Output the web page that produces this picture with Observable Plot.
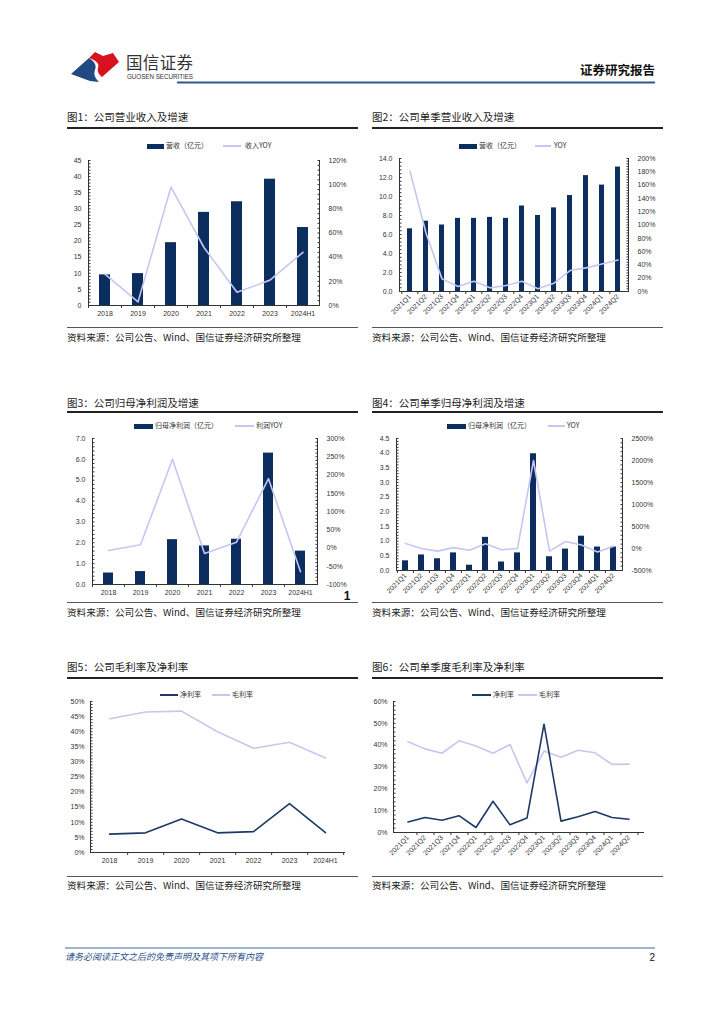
<!DOCTYPE html>
<html><head><meta charset="utf-8">
<script src="https://cdn.jsdelivr.net/npm/d3@7"></script>
<script src="https://cdn.jsdelivr.net/npm/@observablehq/plot@0.6"></script>
<style>
body{margin:0;background:#fff;}
#page{position:relative;width:724px;height:1024px;overflow:hidden;background:#fff;font-family:"Noto Sans CJK SC","Noto Sans",sans-serif;color:#222;}
.abs{position:absolute;}
.title{font-size:10.5px;white-space:nowrap;line-height:1;}
.src{font-size:9.6px;white-space:nowrap;line-height:1;}
.rule{height:1.5px;background:#222;}
.rule2{height:1px;background:#555;}
.leg{font-size:7px;white-space:nowrap;line-height:1;color:#333;}
.sw{position:absolute;}
.chart svg{overflow:visible;}
</style></head>
<body><div id="page"></div>
<script>
// ---------- data ----------
const years = ["2018","2019","2020","2021","2022","2023","2024H1"];
const quarters = ["2021Q1","2021Q2","2021Q3","2021Q4","2022Q1","2022Q2","2022Q3","2022Q4","2023Q1","2023Q2","2023Q3","2023Q4","2024Q1","2024Q2"];

const revenue = [9.5, 9.9, 19.5, 28.9, 32.2, 39.2, 24.2];
const revenueYoY = [26, 3, 98, 48, 11, 21, 44];

const qRevenue = [6.6, 7.4, 7.0, 7.7, 7.7, 7.8, 7.7, 9.0, 8.0, 8.8, 10.1, 12.2, 11.2, 13.1];
const qRevenueYoY = [181, 88, 19, 7.5, 15.5, 5.5, 9, 15.5, 4, 12.5, 31.5, 35.5, 41.5, 47.5];

const profit = [0.55, 0.62, 2.15, 1.85, 2.17, 6.3, 1.6];
const profitYoY = [-7, 9, 243, -15, 16, 190, -65];

const qProfit = [0.33, 0.53, 0.40, 0.60, 0.18, 1.13, 0.29, 0.60, 3.98, 0.47, 0.73, 1.17, 0.80, 0.80];
const qProfitYoY = [115, 0, -60, 20, -40, 110, -30, 0, 2000, -60, 160, 80, -80, 50];

const netMargin = [6.1, 6.5, 11.1, 6.5, 6.9, 16.2, 6.6];
const grossMargin = [44.3, 46.5, 46.8, 40.0, 34.5, 36.5, 31.3];

const qNetMargin = [4.8, 6.9, 5.6, 7.7, 2.3, 14.3, 3.5, 6.6, 49.6, 5.2, 7.2, 9.6, 6.9, 6.1];
const qGrossMargin = [41.6, 38.3, 36.3, 42.0, 39.6, 36.3, 40.3, 22.7, 37.3, 34.5, 37.7, 36.5, 31.2, 31.3];

const titles = ["图1：公司营业收入及增速","图2：公司单季营业收入及增速","图3：公司归母净利润及增速","图4：公司单季归母净利润及增速","图5：公司毛利率及净利率","图6：公司单季度毛利率及净利率"];
const source = "资料来源：公司公告、Wind、国信证券经济研究所整理";

const NAVY = "#0c2e5e", LAV = "#c6c6f2", NAVYLINE = "#1b3a66";
const FONT = "'Liberation Sans','Noto Sans CJK SC',sans-serif";

const page = document.getElementById("page");
function el(tag, cls, style, html){const e=document.createElement(tag); if(cls) e.className=cls; Object.assign(e.style, style||{}); if(html!=null) e.innerHTML=html; page.appendChild(e); return e;}
function place(node, left, top){const d=el("div","abs chart",{left:left+"px",top:top+"px"}); d.appendChild(node); return d;}
const range = (a,b,s)=>d3.range(a, b + s/2, s).map(v=>+v.toFixed(4));

// ---------- header / footer ----------
const hdr = `<svg width="724" height="1024" style="position:absolute;left:0;top:0">
<path d="M71,74 L89,58 C94,61 97,65 95,70 C93,75 96,79 99,82 L90,81 Z" fill="#1f4a82"/>
<path d="M89,58 L95,52 L103,56 L113,53 L119,62 L102,77 C99,74 97,72 98,68 C100,63 95,60 89,58 Z" fill="#d7121e"/>
<text x="126" y="69" font-size="16.5" fill="#333" textLength="67" font-family="Noto Sans CJK SC">国信证券</text>
<text x="127" y="78.5" font-size="6.3" fill="#333" textLength="66" font-family="Liberation Sans">GUOSEN SECURITIES</text>
<text x="655" y="75" font-size="12.5" font-weight="bold" fill="#111" text-anchor="end" font-family="Noto Sans CJK SC">证券研究报告</text>
<rect x="177" y="81.5" width="478" height="2" fill="#2a5a8f"/>
<rect x="65" y="947.5" width="590" height="1" fill="#3b6aa0"/>
<text x="65" y="960" font-size="9" font-style="italic" fill="#2a4f8c" font-family="Noto Sans CJK SC">请务必阅读正文之后的免责声明及其项下所有内容</text>
<text x="655" y="961" font-size="10" fill="#111" text-anchor="end" font-family="Liberation Sans">2</text>
<text x="347" y="600" font-size="12" font-weight="bold" fill="#111" text-anchor="middle" font-family="Liberation Sans">1</text>
</svg>`;
const hd = el("div","abs",{left:"0px",top:"0px"}); hd.innerHTML = hdr;

// ---------- panel frames ----------
const panels = [
  {x:67, title:118, r1:127, r2:327, src:338},
  {x:372, title:118, r1:127, r2:327, src:338},
  {x:67, title:404, r1:411, r2:602, src:613},
  {x:372, title:404, r1:411, r2:602, src:613},
  {x:67, title:668, r1:677, r2:876, src:886},
  {x:372, title:668, r1:677, r2:876, src:886}
];
panels.forEach((p,i)=>{
  el("div","abs title",{left:p.x+"px",top:(p.title-6)+"px"}, titles[i]);
  el("div","abs rule",{left:p.x+"px",top:p.r1+"px",width:"291px"});
  el("div","abs rule2",{left:p.x+"px",top:p.r2+"px",width:"291px"});
  el("div","abs src",{left:p.x+"px",top:(p.src-5)+"px"}, source);
});

// ---------- legends ----------
function legend(items, y){
  items.forEach(it=>{
    if(it.type==="bar") el("div","sw",{left:it.x0+"px",top:(y-2.5)+"px",width:(it.x1-it.x0)+"px",height:"5px",background:it.color});
    else el("div","sw",{left:it.x0+"px",top:(y-1)+"px",width:(it.x1-it.x0)+"px",height:"2px",background:it.color});
    el("div","abs leg",{left:it.tx+"px",top:(y-4)+"px"}, it.label);
  });
}
legend([{type:"bar",x0:147,x1:164,tx:166,label:"营收（亿元）",color:NAVY},{type:"line",x0:223,x1:241,tx:245,label:"收入YOY",color:LAV}],146);
legend([{type:"bar",x0:459,x1:477,tx:479,label:"营收（亿元）",color:NAVY},{type:"line",x0:535,x1:551,tx:554,label:"YOY",color:LAV}],146);
legend([{type:"bar",x0:134,x1:153,tx:155,label:"归母净利润（亿元）",color:NAVY},{type:"line",x0:235,x1:254,tx:256,label:"利润YOY",color:LAV}],426);
legend([{type:"bar",x0:447,x1:466,tx:468,label:"归母净利润（亿元）",color:NAVY},{type:"line",x0:548,x1:565,tx:567,label:"YOY",color:LAV}],426);
legend([{type:"line",x0:160,x1:178,tx:180,label:"净利率",color:NAVYLINE},{type:"line",x0:212,x1:230,tx:232,label:"毛利率",color:LAV}],695);
legend([{type:"line",x0:472,x1:491,tx:493,label:"净利率",color:NAVYLINE},{type:"line",x0:518,x1:537,tx:539,label:"毛利率",color:LAV}],695);

// ---------- chart builders ----------
function dual(c){
  const [l0,l1]=c.yDom, [r0,r1]=c.rDom;
  const toL = v => l0 + (v - r0) * (l1 - l0) / (r1 - r0);
  const fromL = y => r0 + (y - l0) * (r1 - r0) / (l1 - l0);
  const data = c.cats.map((k,i)=>({k, b:c.bars[i], r:c.line[i]}));
  const p = c.pad;
  const step = (c.w - c.m[0] - c.m[1]) / c.cats.length;
  return Plot.plot({
    width:c.w, height:c.h, marginLeft:c.m[0], marginRight:c.m[1], marginTop:c.m[2], marginBottom:c.m[3],
    style:{fontFamily:FONT, fontSize:"7px", color:"#333", background:"transparent", overflow:"visible"},
    x:{type:"band", domain:c.cats, paddingInner:p, paddingOuter:p/2, label:null},
    y:{domain:c.yDom, label:null},
    marks:[
      Plot.barY(data,{x:"k", y:"b", fill:NAVY}),
      Plot.lineY(data,{x:"k", y:d=>toL(d.r), stroke:LAV, strokeWidth:1.6}),
      Plot.frame({anchor:"left", stroke:"#333"}),
      Plot.frame({anchor:"right", stroke:"#333"}),
      Plot.frame({anchor:"bottom", stroke:"#333"}),
      Plot.axisY({ticks:c.yMinor, tickSize:-2.5, tickFormat:()=>"", stroke:"#333", label:null}),
      Plot.axisY({ticks:c.yTicks, tickSize:0, tickPadding:7, tickFormat:c.yFmt, label:null}),
      Plot.axisY({anchor:"right", ticks:c.rMinor.map(toL), tickSize:-2.5, tickFormat:()=>"", stroke:"#333", label:null}),
      Plot.axisY({anchor:"right", ticks:c.rTicks.map(toL), tickSize:0, tickPadding:9, tickFormat:y=>Math.round(fromL(y))+"%", label:null}),
      Plot.axisX({tickSize:3, tickFormat:()=>"", dx:-step/2, stroke:"#333", label:null}),
      Plot.axisX({tickSize:0, tickPadding:c.rot?4:6, tickRotate:c.rot?-45:0, label:null})
    ]
  });
}
function lines(c){
  const data = c.cats.map((k,i)=>({k, n:c.net[i], g:c.gross[i]}));
  const step = (c.w - c.m[0] - c.m[1]) / c.cats.length;
  return Plot.plot({
    width:c.w, height:c.h, marginLeft:c.m[0], marginRight:c.m[1], marginTop:c.m[2], marginBottom:c.m[3],
    style:{fontFamily:FONT, fontSize:"7px", color:"#333", background:"transparent", overflow:"visible"},
    x:{type:"band", domain:c.cats, padding:0, label:null},
    y:{domain:c.yDom, label:null},
    marks:[
      Plot.lineY(data,{x:"k", y:"g", stroke:LAV, strokeWidth:1.6}),
      Plot.lineY(data,{x:"k", y:"n", stroke:NAVYLINE, strokeWidth:1.6}),
      Plot.frame({anchor:"left", stroke:"#333"}),
      Plot.frame({anchor:"bottom", stroke:"#333"}),
      Plot.axisY({ticks:c.yMinor, tickSize:-2.5, tickFormat:()=>"", stroke:"#333", label:null}),
      Plot.axisY({ticks:c.yTicks, tickSize:0, tickPadding:6, tickFormat:d=>d+"%", label:null}),
      Plot.axisX({tickSize:3, tickFormat:()=>"", dx:step/2, stroke:"#333", label:null}),
      Plot.axisX({tickSize:0, tickPadding:c.rot?4:6, tickRotate:c.rot?-45:0, label:null})
    ]
  });
}

// Chart 1
place(dual({cats:years, bars:revenue, line:revenueYoY, yDom:[0,45], yTicks:range(0,45,5), yMinor:range(0,45,1), yFmt:d=>d,
  rDom:[0,120], rTicks:range(0,120,20), rMinor:range(0,120,4), pad:0.67,
  w:296, h:173, m:[26,39,8,20], rot:false}), 62, 152);
// Chart 2
place(dual({cats:quarters, bars:qRevenue, line:qRevenueYoY, yDom:[0,14], yTicks:range(0,14,2), yMinor:range(0,14,0.4), yFmt:d3.format(".1f"),
  rDom:[0,200], rTicks:range(0,200,20), rMinor:range(0,200,4), pad:0.7,
  w:295, h:177, m:[31,35,8,36], rot:true}), 368, 150);
// Chart 3
place(dual({cats:years, bars:profit, line:profitYoY, yDom:[0,7], yTicks:range(0,7,1), yMinor:range(0,7,0.2), yFmt:d3.format(".1f"),
  rDom:[-100,300], rTicks:range(-100,300,50), rMinor:range(-100,300,10), pad:0.68,
  w:296, h:170, m:[30,41,8,16], rot:false}), 62, 430);
// Chart 4
place(dual({cats:quarters, bars:qProfit, line:qProfitYoY, yDom:[0,4.5], yTicks:range(0,4.5,0.5), yMinor:range(0,4.5,0.1), yFmt:d3.format(".1f"),
  rDom:[-500,2500], rTicks:range(-500,2500,500), rMinor:range(-500,2500,100), pad:0.65,
  w:295, h:170, m:[28,41,8,30], rot:true}), 368, 430);
// Chart 5
place(lines({cats:years, net:netMargin, gross:grossMargin, yDom:[0,50], yTicks:range(0,50,5), yMinor:range(0,50,1),
  w:296, h:180, m:[28,14,8,21], rot:false}), 62, 693);
// Chart 6
place(lines({cats:quarters, net:qNetMargin, gross:qGrossMargin, yDom:[0,60], yTicks:range(0,60,10), yMinor:range(0,60,2),
  w:295, h:180, m:[25,20,8,41], rot:true}), 368, 693);
</script></body></html>
